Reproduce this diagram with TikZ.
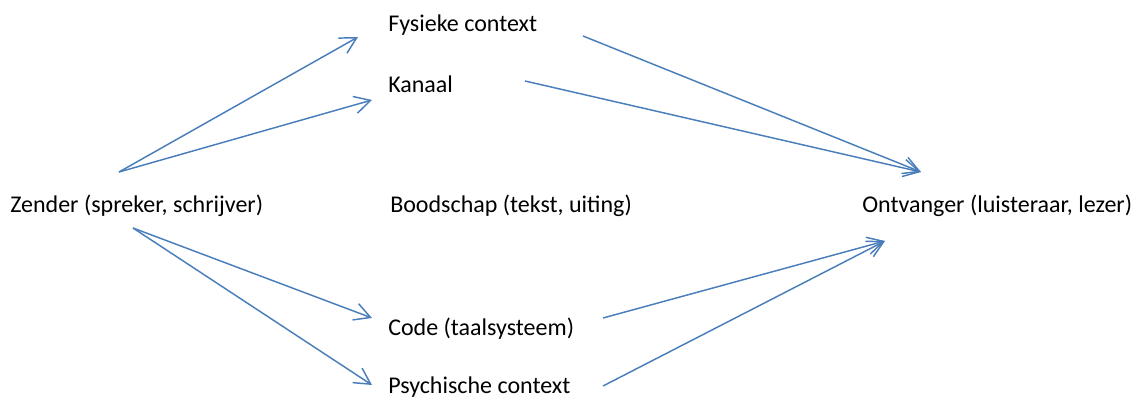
\documentclass[tikz,border=0pt]{standalone}
\usepackage{fontspec}
\setmainfont{Carlito}
\usetikzlibrary{arrows.meta, positioning}
\definecolor{myblue}{RGB}{74,126,187}

\begin{document}
\begin{tikzpicture}[x=0.75pt, y=-0.75pt,
    every node/.style={inner sep=0pt, anchor=base west, font=\fontsize{18}{22}\selectfont},
    arr/.style={->, myblue, line width=1.1pt, >={Straight Barb[length=12pt, width=13pt]}}]
  \useasboundingbox (0,0) rectangle (1138,396);

  \node (Zen)  at (10,212)    {Zender (spreker, schrijver)};
  \node (Bood) at (390,212)   {Boodschap (tekst, uiting)};
  \node (Ont)  at (862,212)   {Ontvanger (luisteraar, lezer)};
  \node (Fys)  at (388,31.5)  {Fysieke context};
  \node (Kan)  at (388,92)    {Kanaal};
  \node (Code) at (388,335)   {Code (taalsysteem)};
  \node (Psy)  at (388,393.5) {Psychische context};

  % zender naar boven en onder
  \draw[arr] ([shift={(109,-40)}]Zen.base west) -- ([shift={(-30,5.5)}]Fys.base west);
  \draw[arr] ([shift={(109,-40)}]Zen.base west) -- ([shift={(-16,8)}]Kan.base west);
  \draw[arr] ([shift={(123,16)}]Zen.base west)  -- ([shift={(-16,-17)}]Code.base west);
  \draw[arr] ([shift={(123,16)}]Zen.base west)  -- ([shift={(-16,-8.5)}]Psy.base west);

  % naar de ontvanger
  \draw[arr] ([shift={(195,4.5)}]Fys.base west)  -- ([shift={(59,-40)}]Ont.base west);
  \draw[arr] ([shift={(137,-11)}]Kan.base west)  -- ([shift={(59,-40)}]Ont.base west);
  \draw[arr] ([shift={(215,-17)}]Code.base west) -- ([shift={(23,29)}]Ont.base west);
  \draw[arr] ([shift={(215,-7.5)}]Psy.base west) -- ([shift={(23,29)}]Ont.base west);
\end{tikzpicture}
\end{document}
